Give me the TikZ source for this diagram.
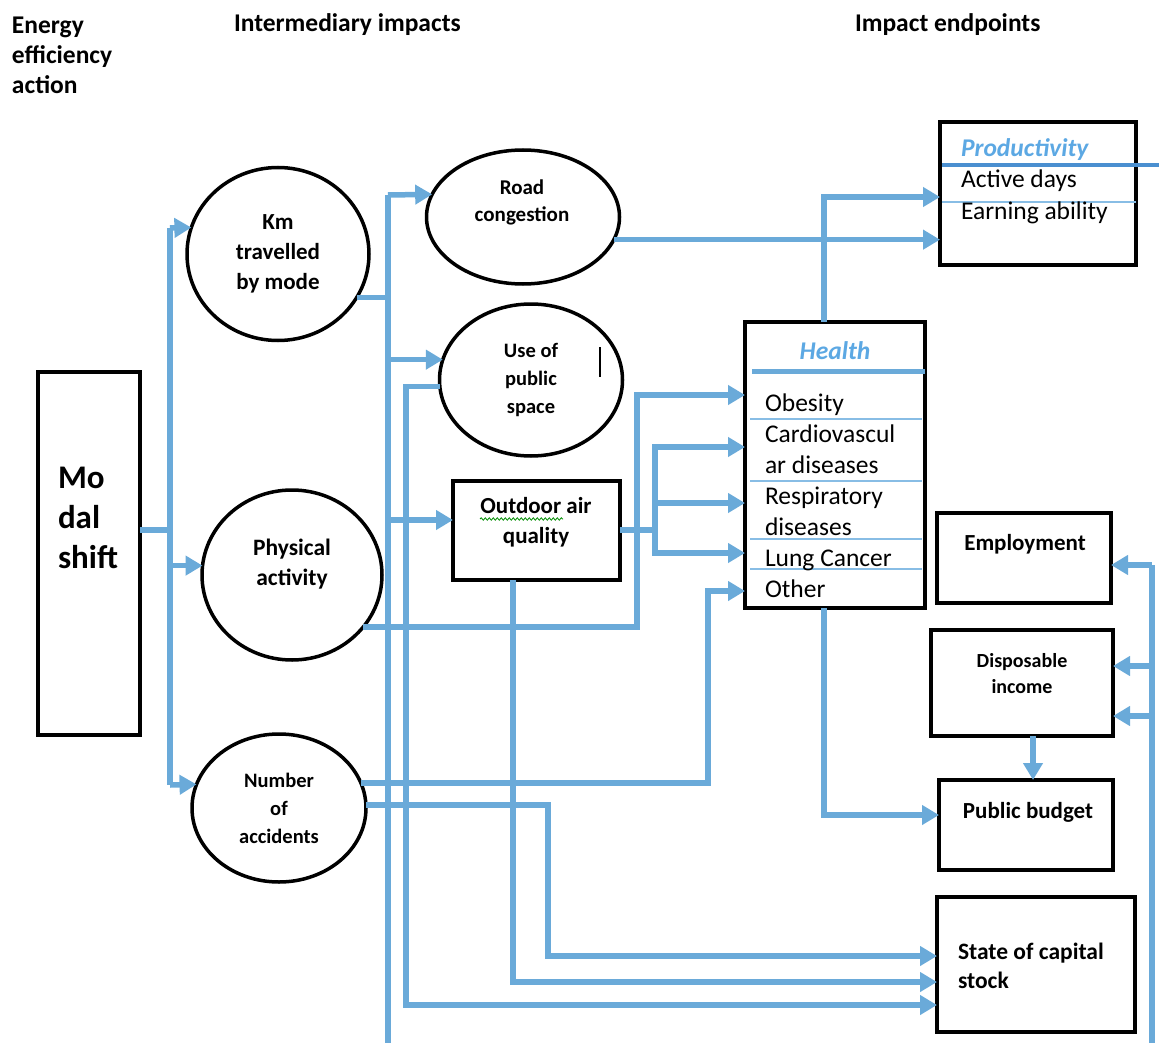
\documentclass[tikz,border=0pt]{standalone}
\usepackage{fontspec}
\setmainfont{Carlito}
\usetikzlibrary{arrows.meta,shapes.geometric,decorations.pathmorphing}
\definecolor{flowblue}{HTML}{6AAAD9}
\definecolor{titleblue}{HTML}{5CA8E3}
\definecolor{rulelight}{HTML}{88BDE5}
\definecolor{ruledark}{HTML}{4A8FD0}
\newcommand{\fsz}[2]{\fontsize{#1}{#2}\selectfont}

\begin{document}
\begin{tikzpicture}[
    x=1pt, y=-1pt,
    >={Triangle[length=17pt,width=19pt]},
    line join=miter,
    every node/.style={inner sep=0pt, outer sep=0pt},
    flow/.style={flowblue, line width=5.5pt},
    box/.style={draw, rectangle, line width=4.5pt},
    oval/.style={draw, ellipse, line width=3.5pt},
    head/.style={font=\fsz{25.5}{30}\bfseries, align=left, anchor=west},
    sep/.style={rulelight, line width=1.8pt},
]
\useasboundingbox (0,0) rectangle (1159,1043);

% --- Column headings ---
\node[head] (hdr-action) at (12,55) {Energy\\efficiency\\action};
\node[head] (hdr-inter) at (234,25) {Intermediary impacts};
\node[head] (hdr-end) at (855,25) {Impact endpoints};

% --- Energy efficiency action ---
\node[box, line width=4pt, minimum width=102, minimum height=363] (modal) at (89,553.5) {};
\node[anchor=west, align=left, font=\fsz{33}{40}\bfseries] (modal-txt) at (58,518) {Mo\\dal\\shift};

% --- Intermediary impacts ---
\node[oval, minimum width=182, minimum height=173, align=center, font=\fsz{23}{30}\bfseries]
    (km) at (278,254) {Km\\travelled\\by mode};
\node[oval, minimum width=193, minimum height=134] (road) at (523,217) {};
\node[align=center, font=\fsz{21}{27}\bfseries] (road-txt) at (522,202) {Road\\congestion};
\node[oval, minimum width=183, minimum height=152, align=center, font=\fsz{20.5}{28}\bfseries]
    (pub) at (531,380) {Use of\\public\\space};
\draw[line width=1.3pt] (600,347) -- (600,377);
\node[box, line width=4pt, minimum width=167, minimum height=99] (air) at (536.5,530.5) {};
\node[align=center, font=\fsz{23}{30}\bfseries] (air-txt) at (536,522) {Outdoor air\\quality};
\draw[green!55!black, line width=0.8pt, decorate, decoration={snake, amplitude=1.2pt, segment length=4pt}]
    (480,519) -- (563,519);
\node[oval, minimum width=180, minimum height=170] (phys) at (292,575) {};
\node[align=center, font=\fsz{23.5}{30}\bfseries] (phys-txt) at (292,564) {Physical\\activity};
\node[oval, minimum width=174, minimum height=148, align=center, font=\fsz{20.5}{28}\bfseries]
    (acc) at (279,808) {Number\\of\\accidents};

% --- Impact endpoints ---
\node[box, minimum width=196, minimum height=143] (prod) at (1038,193.5) {};
\draw[ruledark, line width=4pt] (942,165) -- (1159,165);
\draw[sep] (942,202) -- (1136,202);
\node[anchor=west, font=\fsz{25.5}{32}\bfseries\itshape, text=titleblue] (prod-title) at (961,150) {Productivity};
\node[anchor=west, align=left, font=\fsz{25.5}{32}] (prod-items) at (961,197) {Active days\\Earning ability};

\node[box, minimum width=180, minimum height=286] (health) at (835,465) {};
\node[font=\fsz{25.5}{30}\bfseries\itshape, text=titleblue] (health-title) at (835,351) {Health};
\draw[flowblue, line width=5pt] (752,371) -- (925,371);
\foreach \yy in {419,481,539,569}
    \draw[sep] (750,\yy) -- (922,\yy);
\node[anchor=west, align=left, font=\fsz{25.5}{31}] (health-items) at (765,495.5)
    {Obesity\\Cardiovascul\\ar diseases\\Respiratory\\diseases\\Lung Cancer\\Other};

\node[box, minimum width=174, minimum height=90] (emp) at (1024,558) {};
\node[font=\fsz{23}{28}\bfseries] (emp-txt) at (1025,544) {Employment};
\node[box, minimum width=182, minimum height=106] (disp) at (1022,683) {};
\node[align=center, font=\fsz{20}{26}\bfseries] (disp-txt) at (1022,674) {Disposable\\income};
\node[box, minimum width=174, minimum height=90] (budget) at (1026,825) {};
\node[font=\fsz{23}{28}\bfseries] (budget-txt) at (1028,812) {Public budget};
\node[box, minimum width=198, minimum height=135] (state) at (1036,964.5) {};
\node[anchor=west, align=left, font=\fsz{23.5}{29}\bfseries] (state-txt) at (958,965.5) {State of capital\\stock};

% --- Modal shift fan-out ---
\coordinate (ms-top) at (170,228);
\coordinate (ms-mid) at (170,530);
\coordinate (ms-bot) at (170,785);
\draw[flow] (modal.east |- ms-mid) -- (ms-mid);
\draw[flow] (ms-top) -- (ms-bot);
\draw[flow,->] (ms-top) -- (km.163);
\draw[flow,->] (ms-top |- phys.174) -- (phys.174);
\draw[flow,->] (ms-bot) -- (acc.164.5);

% --- Km travelled fan-out (runs off the bottom) ---
\coordinate (km-top) at (388,195);
\coordinate (km-end) at (388,1043);
\draw[flow] (km.331) -- (km.331 -| km-top);
\draw[flow] (km-top) -- (km-end);
\draw[flow,->] (km-top) -- (road.166.4);
\draw[flow,->] (km-top |- pub.167.3) -- (pub.167.3);
\draw[flow,->] (km-top |- {(0,520)}) -- ([yshift=10.5pt]air.west);

% --- Use of public space to capital stock ---
\coordinate (pub-bend) at (406,0);
\draw[flow,->] (pub.184) -- (pub.184 -| pub-bend) |- ([yshift=-40.5pt]state.west);

% --- Road congestion and health to productivity ---
\draw[flow,->] (road.346) -- (road.346 -| prod.west);
\draw[flow,->] ([xshift=-11pt]health.north) |- ([yshift=-3.5pt]prod.west);

% --- Outdoor air quality to health ---
\coordinate (air-fan) at (655,530);
\draw[flow] (air.east |- air-fan) -- (air-fan);
\draw[flow,->] (air-fan) |- ([yshift=18pt]health.west);
\draw[flow,->] (air-fan) |- ([yshift=-38pt]health.west);
\draw[flow,->] (air-fan) |- ([yshift=-88pt]health.west);
\draw[flow,->] ([xshift=-23.5pt]air.south) |- ([yshift=-17.5pt]state.west);

% --- Physical activity and accidents ---
\coordinate (phys-bend) at (637,0);
\draw[flow,->] (phys.324) -- (phys.324 -| phys-bend) |- ([yshift=70pt]health.west);
\coordinate (acc-bend) at (708,0);
\draw[flow,->] (acc.17) -- (acc.17 -| acc-bend) |- ([yshift=-126pt]health.west);
\coordinate (acc-bend2) at (548,0);
\draw[flow,->] (acc.2) -- (acc.2 -| acc-bend2) |- ([yshift=8.5pt]state.west);

% --- Health to public budget ---
\draw[flow,->] ([xshift=-11pt]health.south) |- ([yshift=10pt]budget.west);
\draw[flow,->] ([xshift=11pt]disp.south) -- ([xshift=11pt]disp.south |- budget.north);

% --- Right-hand feed (runs off the bottom) ---
\coordinate (rs-emp) at (1152,565);
\coordinate (rs-disp1) at (1152,666);
\coordinate (rs-disp2) at (1152,716);
\coordinate (rs-end) at (1152,1043);
\draw[flow] (rs-emp) -- (rs-end);
\draw[flow,->] (rs-emp) -- (rs-emp -| emp.east);
\draw[flow,->] (rs-disp1) -- (rs-disp1 -| disp.east);
\draw[flow,->] (rs-disp2) -- (rs-disp2 -| disp.east);

\end{tikzpicture}
\end{document}
